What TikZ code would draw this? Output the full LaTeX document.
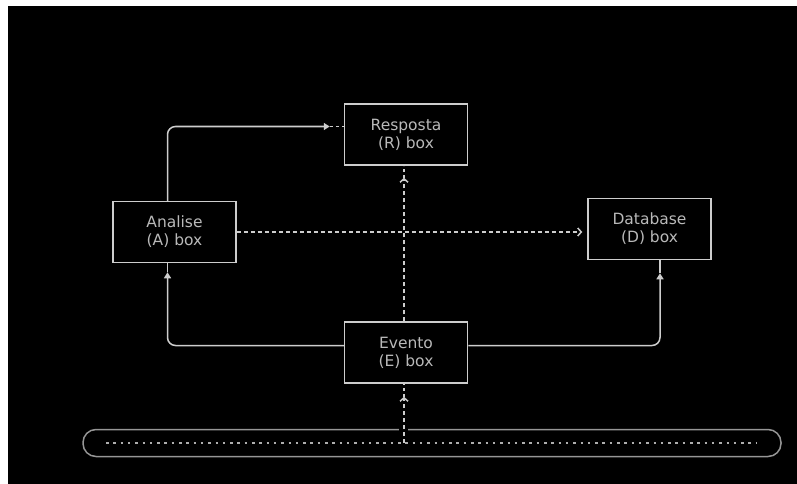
\documentclass[tikz,border=0pt]{standalone}
\usepackage{fontspec}
\setmainfont{DejaVu Sans}
\usetikzlibrary{calc,arrows.meta,positioning}
\definecolor{linegrey}{RGB}{205,205,205}
\definecolor{textgrey}{RGB}{185,185,185}
\definecolor{busgrey}{RGB}{150,150,150}

\begin{document}
\begin{tikzpicture}[x=1pt, y=-1pt,
    every node/.style={font=\fontsize{15.5}{18}\selectfont, text=textgrey},
    boxnode/.style={draw=linegrey, line width=1.5pt, minimum width=123pt, minimum height=61pt, align=center, inner sep=0pt},
    solidlink/.style={draw=linegrey, line width=1.5pt, rounded corners=8pt, -{Triangle[length=6pt,width=7pt]}},
    dashlink/.style={draw=linegrey, line width=1.5pt, dash pattern=on 4pt off 3pt, -{Straight Barb[length=3.5pt,width=8pt,line width=1.5pt]}},
    stub/.style={draw=linegrey, line width=1.5pt, dash pattern=on 3pt off 3pt},
    solidstub/.style={draw=linegrey, line width=1.2pt}]
  % background with white margin
  \fill[white] (0,0) rectangle (797,484);
  \fill[black] (8,6) rectangle (797,484);
  % boxes
  \node[boxnode] (resposta) at (406,134.5) {Resposta\\(R) box};
  \node[boxnode] (analise) at (174.5,232) {Analise\\(A) box};
  \node[boxnode] (database) at (649.5,229) {Database\\(D) box};
  \node[boxnode] (evento) at (406,352.5) {Evento\\(E) box};
  % event bus
  \node[draw=busgrey, line width=1.5pt, rounded corners=13pt, minimum width=698pt, minimum height=27pt] (bus) at (432,443) {};
  \draw[linegrey!85!black, line width=2.5pt, dash pattern=on 2.5pt off 4.8pt] (106,443) -- (756,443);
  \fill[black] (399,427) rectangle (408,431);
  \coordinate (tap) at (404,443);
  % bus to evento
  \draw[dashlink, shorten >=13pt] (tap) -- (tap |- evento.south);
  \draw[stub] ($(tap |- evento.south)+(0,13)$) -- (tap |- evento.south);
  % evento to resposta
  \draw[dashlink, shorten >=12pt] (evento.north -| tap) -- (resposta.south -| tap);
  \draw[stub] ($(tap |- resposta.south)+(0,12)$) -- (tap |- resposta.south);
  % evento to analise and database
  \draw[solidlink, shorten >=9pt] ([yshift=7pt]evento.west) -| ($(analise.south)+(-7,0)$);
  \draw[solidstub] ($(analise.south)+(-7,9)$) -- ($(analise.south)+(-7,0)$);
  \draw[solidlink, shorten >=13pt] ([yshift=7pt]evento.east) -| ($(database.south)+(10.5,0)$);
  \draw[solidstub] ($(database.south)+(10.5,13)$) -- ($(database.south)+(10.5,0)$);
  % analise to resposta
  \draw[solidlink, shorten >=14pt] ($(analise.north)+(-7,0)$) |- ([yshift=8pt]resposta.west);
  \draw[stub] ($([yshift=8pt]resposta.west)+(-14,0)$) -- ([yshift=8pt]resposta.west);
  % analise to database
  \draw[dashlink, shorten >=5pt] (analise.east) -- (analise.east -| database.west);
\end{tikzpicture}
\end{document}
